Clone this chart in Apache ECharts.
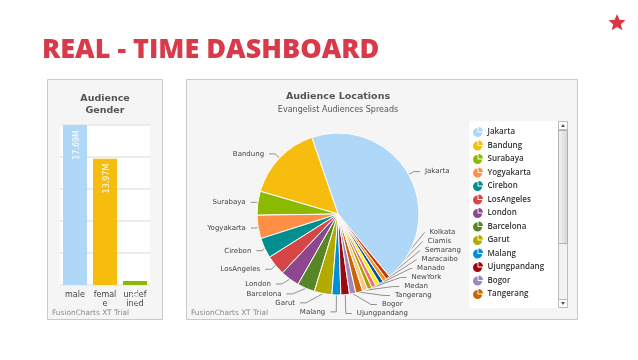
<!DOCTYPE html>
<html>
<head>
<meta charset="utf-8">
<script src="https://cdn.jsdelivr.net/npm/echarts@6/dist/echarts.min.js"></script>
<style>
html,body{margin:0;padding:0;background:#fff;}
#c{width:638px;height:360px;}
</style>
</head>
<body>
<div id="c"></div>
<script>
// ---- data ----
var genderCategories = ['male', 'female', 'undefined'];
var genderLabels = ['male', 'femal\ne', 'undef\nined'];
var genderValues = [17.69, 13.97, 0.44]; // millions
var genderColors = ['#AFD8F8', '#F6BD0F', '#8BBA00'];

var cities = ['Jakarta', 'Bandung', 'Surabaya', 'Yogyakarta', 'Cirebon', 'LosAngeles', 'London',
  'Barcelona', 'Garut', 'Malang', 'Ujungpandang', 'Bogor', 'Tangerang', 'Medan', 'NewYork',
  'Manado', 'Maracaibo', 'Semarang', 'Ciamis', 'Kolkata'];
var cityValues = [14200, 4890, 1525, 1500, 1300, 1285, 1220, 1125, 1130, 570, 545, 410, 445,
  330, 290, 280, 270, 260, 255, 250]; // thousands
var palette = ['#AFD8F8', '#F6BD0F', '#8BBA00', '#FF8E46', '#008E8E', '#D64646', '#8E468E',
  '#588526', '#B3AA00', '#008ED6', '#9D080D', '#A186BE', '#CC6600', '#FDC689', '#ABA000',
  '#F26D7D', '#FFF200', '#0054A6', '#F7941C', '#CC3300'];

var chart = echarts.init(document.getElementById('c'), null, {renderer: 'canvas'});

function starPoints(cx, cy, R, r) {
  var pts = [];
  for (var i = 0; i < 10; i++) {
    var a = -Math.PI / 2 + i * Math.PI / 5;
    var rad = i % 2 === 0 ? R : r;
    pts.push([cx + rad * Math.cos(a), cy + rad * Math.sin(a)]);
  }
  return pts;
}

var pieIcon = 'path://M5,6 L5,1 A5,5 0 1,0 10,6 Z M6,5 L6,0 A5,5 0 0,1 11,5 Z';

var yMax = 17.69;

var option = {
  backgroundColor: '#ffffff',
  animation: false,
  color: palette,
  graphic: [
    {type: 'rect', shape: {x: 47.5, y: 79.5, width: 115, height: 240}, style: {fill: '#f5f5f5', stroke: '#c9c9c9', lineWidth: 1}, z: -10},
    {type: 'rect', shape: {x: 186.5, y: 79.5, width: 391, height: 240}, style: {fill: '#f5f5f5', stroke: '#c9c9c9', lineWidth: 1}, z: -10},
    {type: 'rect', shape: {x: 469, y: 121, width: 89, height: 187}, style: {fill: '#ffffff'}, z: -9},
    {type: 'text', style: {text: 'REAL - TIME DASHBOARD', x: 42, y: 50.5, textVerticalAlign: 'middle', fill: '#d93a4a', font: '800 27px "Open Sans"'}},
    {type: 'polygon', shape: {points: starPoints(617, 23, 9, 4)}, style: {fill: '#e03444'}},
    {type: 'text', style: {text: 'Audience', x: 105, y: 99, textAlign: 'center', textVerticalAlign: 'middle', fill: '#555', font: 'bold 9.5px "DejaVu Sans"'}},
    {type: 'text', style: {text: 'Gender', x: 105, y: 111, textAlign: 'center', textVerticalAlign: 'middle', fill: '#555', font: 'bold 9.5px "DejaVu Sans"'}},
    {type: 'text', style: {text: 'FusionCharts XT Trial', x: 52, y: 313, textVerticalAlign: 'middle', fill: '#8a8a8a', font: '7.4px "DejaVu Sans"'}},
    {type: 'text', style: {text: 'Audience Locations', x: 338, y: 97, textAlign: 'center', textVerticalAlign: 'middle', fill: '#555', font: 'bold 9.5px "DejaVu Sans"'}},
    {type: 'text', style: {text: 'Evangelist Audiences Spreads', x: 338, y: 110, textAlign: 'center', textVerticalAlign: 'middle', fill: '#555', font: '8px "DejaVu Sans"'}},
    {type: 'text', style: {text: 'FusionCharts XT Trial', x: 191, y: 313, textVerticalAlign: 'middle', fill: '#8a8a8a', font: '7.4px "DejaVu Sans"'}},
    // legend scrollbar
    {type: 'rect', shape: {x: 558.5, y: 121.5, width: 9, height: 186}, style: {fill: '#f2f2f2', stroke: '#bdbdbd', lineWidth: 1}},
    {type: 'rect', shape: {x: 558.5, y: 121.5, width: 9, height: 8}, style: {fill: '#ffffff', stroke: '#bdbdbd', lineWidth: 1}},
    {type: 'rect', shape: {x: 558.5, y: 299.5, width: 9, height: 8}, style: {fill: '#ffffff', stroke: '#bdbdbd', lineWidth: 1}},
    {type: 'rect', shape: {x: 558.5, y: 130.5, width: 9, height: 113}, style: {fill: new echarts.graphic.LinearGradient(0, 0, 1, 0, [{offset: 0, color: '#f4f4f4'}, {offset: 1, color: '#d4d4d4'}]), stroke: '#b0b0b0', lineWidth: 1}},
    {type: 'polygon', shape: {points: [[563, 124], [561, 127], [565, 127]]}, style: {fill: '#555'}},
    {type: 'polygon', shape: {points: [[563, 305], [561, 302], [565, 302]]}, style: {fill: '#555'}}
  ],
  grid: {left: 60, top: 125, width: 90, height: 160, show: true, backgroundColor: '#ffffff', borderWidth: 0},
  xAxis: {
    type: 'category', data: genderCategories,
    axisLine: {show: false}, axisTick: {show: false},
    axisLabel: {color: '#444', fontSize: 8, fontFamily: 'DejaVu Sans', lineHeight: 9, margin: 5, interval: 0,
      formatter: function (v, i) { return genderLabels[i]; }}
  },
  yAxis: {
    type: 'value', min: 0, max: yMax, interval: yMax / 5,
    axisLabel: {show: false}, axisLine: {show: false}, axisTick: {show: false},
    splitLine: {show: true, lineStyle: {color: '#ececec', width: 2}}
  },
  legend: {
    type: 'scroll', orient: 'vertical', left: 466, top: 124, height: 177, width: 92,
    padding: [3, 4, 3, 7],
    itemWidth: 11, itemHeight: 10, itemGap: 3.5, itemStyle: {borderWidth: 0}, icon: pieIcon,
    textStyle: {fontSize: 8, lineHeight: 9, fontFamily: 'Open Sans', fontWeight: 600, color: '#333', padding: [0, 0, 0, -1]},
    pageIconSize: 0, pageFormatter: '', pageButtonGap: 0, pageButtonItemGap: 0,
    pageTextStyle: {fontSize: 1, color: 'rgba(0,0,0,0)'},
    pageIconColor: 'rgba(0,0,0,0)', pageIconInactiveColor: 'rgba(0,0,0,0)',
    data: cities
  },
  series: [
    {
      type: 'bar', barWidth: 24,
      data: genderValues.map(function (v, i) { return {value: v, itemStyle: {color: genderColors[i]}}; }),
      label: {show: true, position: 'insideTop', rotate: 90, align: 'right', verticalAlign: 'middle', offset: [0, 2],
        color: '#ffffff', fontSize: 8, fontFamily: 'DejaVu Sans',
        formatter: function (p) { return p.value.toFixed(2) + 'M'; }}
    },
    {
      type: 'pie', left: 0, top: 0, width: 638, height: 318,
      center: [338, 214], radius: 81, clockwise: false, startAngle: -50.5,
      data: cities.map(function (c, i) { return {name: c, value: cityValues[i]}; }),
      itemStyle: {borderColor: '#ffffff', borderWidth: 1},
      label: {show: true, color: '#444', fontSize: 7, lineHeight: 5, fontFamily: 'DejaVu Sans'},
      labelLine: {show: true, length: 6, length2: 6, lineStyle: {color: '#777', width: 0.8}},
      avoidLabelOverlap: true
    }
  ]
};
chart.setOption(option);
</script>
</body>
</html>
